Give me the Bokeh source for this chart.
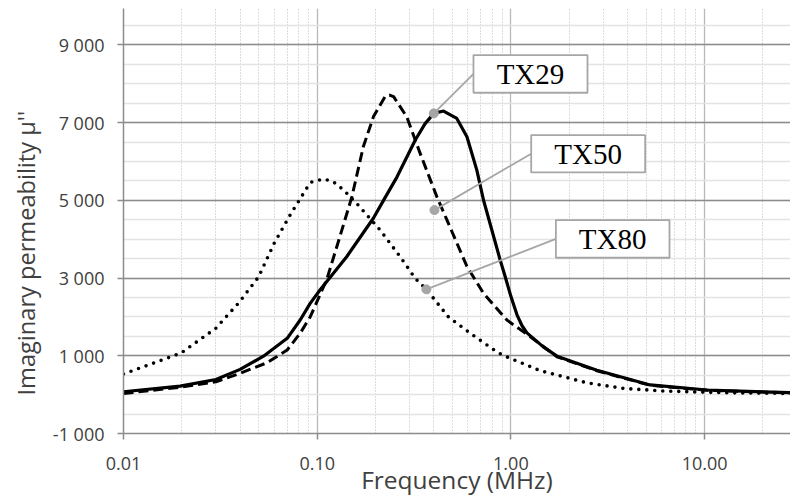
from bokeh.plotting import figure
from bokeh.models import FixedTicker, Range1d, ColumnDataSource, Title
from bokeh.core.properties import value
from bokeh.embed import file_html
from bokeh.resources import INLINE

# ---------------- data ----------------
freq_tx29 = [0.01, 0.0196, 0.030, 0.040, 0.0528, 0.070, 0.0817, 0.092, 0.1036, 0.142,
             0.195, 0.22, 0.258, 0.321, 0.36, 0.40, 0.449, 0.526, 0.593, 0.667, 0.722,
             0.88, 0.934, 1.0, 1.074, 1.14, 1.21, 1.47, 1.73, 2.78, 5.24, 10.3, 27.7]
mu_tx29 = [75, 220, 390, 650, 990, 1450, 1920, 2350, 2700, 3550,
           4540, 5000, 5600, 6555, 6970, 7240, 7300, 7110, 6640, 5780, 5010,
           3470, 3040, 2530, 2060, 1780, 1590, 1230, 990, 630, 250, 120, 50]

freq_tx50 = [0.01, 0.0196, 0.030, 0.040, 0.055, 0.070, 0.0817, 0.092, 0.112, 0.131,
             0.151, 0.173, 0.195, 0.224, 0.236, 0.248, 0.29, 0.34, 0.415, 0.468, 0.593,
             0.722, 0.954, 1.26, 1.73, 2.78, 5.24, 10.3, 27.7]
mu_tx50 = [30, 190, 330, 550, 820, 1150, 1580, 2000, 2960, 4070,
           5090, 6380, 7150, 7669, 7710, 7669, 7150, 6210, 5090, 4490, 3300,
           2610, 1920, 1490, 975, 615, 240, 112, 45]

freq_tx80 = [0.01, 0.0198, 0.030, 0.0393, 0.0498, 0.060, 0.0726, 0.090, 0.094, 0.108,
             0.121, 0.137, 0.160, 0.211, 0.268, 0.321, 0.366, 0.476, 0.617, 0.847,
             0.934, 1.42, 2.47, 3.81, 6.1, 12.5, 27.7]
mu_tx80 = [530, 1070, 1710, 2360, 3030, 3900, 4630, 5380, 5480, 5550,
           5480, 5265, 4920, 4240, 3550, 2990, 2710, 2000, 1580, 1100,
           990, 615, 305, 160, 95, 50, 30]

series_names = ["TX29", "TX50", "TX80"]
label_anchor_freq = [0.40, 0.403, 0.366]
label_anchor_mu = [7240, 4750, 2710]

x_tick_values = [0.01, 0.1, 1, 10]
x_tick_labels = ["0.01", "0.10", "1.00", "10.00"]
y_tick_values = [-1000, 1000, 3000, 5000, 7000, 9000]
y_tick_labels = ["-1 000", "1 000", "3 000", "5 000", "7 000", "9 000"]

x_title = "Frequency (MHz)"
y_title = "Imaginary permeability \u03bc''"

# ---------------- layout constants (annotation boxes) ----------------
box_left = [0.641, 1.273, 1.707]
box_right = [2.486, 4.935, 6.59]
box_top = [8740, 6681, 4493]
box_bottom = [7770, 5721, 3523]

x_minor = [m * 10.0 ** e for e in (-2, -1, 0, 1) for m in range(2, 10)]
y_minor = list(range(-1000, 10001, 500))

FONT = "Open Sans"
GRAY = "#a6a6a6"
TEXT = "#404040"

p = figure(width=790, height=498, x_axis_type="log",
           x_range=Range1d(0.01, 27.77), y_range=Range1d(-1000, 9939),
           output_backend="svg", toolbar_location=None,
           min_border_left=123, min_border_right=0, min_border_top=8,
           min_border_bottom=65)
p.outline_line_color = None
p.background_fill_color = "white"
p.border_fill_color = "white"

# axes
p.xaxis.ticker = FixedTicker(ticks=x_tick_values, minor_ticks=x_minor)
p.yaxis.ticker = FixedTicker(ticks=y_tick_values, minor_ticks=y_minor)
p.xgrid.ticker = p.xaxis[0].ticker
p.ygrid.ticker = p.yaxis[0].ticker
p.xaxis.major_label_overrides = {float(v): l for v, l in zip(x_tick_values, x_tick_labels)}
p.yaxis.major_label_overrides = {float(v): l for v, l in zip(y_tick_values, y_tick_labels)}

for ax in (p.xaxis, p.yaxis):
    ax.axis_line_color = "#8c8c8c"
    ax.axis_line_width = 1.5
    ax.major_tick_line_color = "#8c8c8c"
    ax.major_tick_line_width = 1.5
    ax.major_tick_in = 0
    ax.major_tick_out = 6
    ax.minor_tick_line_color = None
    ax.major_label_text_font = FONT
    ax.major_label_text_font_size = "18px"
    ax.major_label_text_color = TEXT
p.xaxis.major_label_standoff = 17
p.yaxis.major_label_standoff = 13

p.xaxis.axis_label = x_title
p.xaxis.axis_label_text_font = FONT
p.xaxis.axis_label_text_font_size = "24.5px"
p.xaxis.axis_label_text_font_style = "normal"
p.xaxis.axis_label_text_color = TEXT
p.xaxis.axis_label_standoff = -10

p.add_layout(Title(text=y_title, align="left", offset=38, standoff=14,
                   vertical_align="middle",
                   text_font=FONT, text_font_size="23.6px",
                   text_font_style="normal", text_color=TEXT), "left")

# grids
p.ygrid.grid_line_color = "#8c8c8c"
p.ygrid.grid_line_width = 1.3
p.ygrid.minor_grid_line_color = "#e3e3e3"
p.ygrid.minor_grid_line_width = 1.3
p.xgrid.grid_line_color = "#b8b8b8"
p.xgrid.grid_line_width = 1.3
p.xgrid.minor_grid_line_color = "#b8b8b8"
p.xgrid.minor_grid_line_width = 1
p.xgrid.minor_grid_line_dash = "1 2"

# curves
p.line(freq_tx80, mu_tx80, line_color="black", line_width=3.6,
       line_dash="0 8", line_cap="round")
p.line(freq_tx50, mu_tx50, line_color="black", line_width=3,
       line_dash="10 5", line_join="round")
p.line(freq_tx29, mu_tx29, line_color="black", line_width=3.2,
       line_join="round")

# annotation boxes
box_src = ColumnDataSource(dict(
    left=box_left, right=box_right, top=box_top, bottom=box_bottom,
    name=series_names,
    cx=[(l * r) ** 0.5 for l, r in zip(box_left, box_right)],
    cy=[(t + b) / 2 for t, b in zip(box_top, box_bottom)],
    ax=label_anchor_freq, ay=label_anchor_mu,
))
p.segment(x0="ax", y0="ay", x1="left", y1="cy", source=box_src,
          line_color=GRAY, line_width=1.8)
p.quad(left="left", right="right", top="top", bottom="bottom", source=box_src,
       fill_color="white", line_color=GRAY, line_width=1.8)
p.text(x="cx", y="cy", text="name", source=box_src,
       text_font=value("Liberation Serif"), text_font_size="29px",
       text_align="center", text_baseline="middle", text_color="black")
p.scatter(x="ax", y="ay", source=box_src, size=9, fill_color=GRAY,
          line_color=GRAY)

open("out.html", "w").write(file_html(p, INLINE))
